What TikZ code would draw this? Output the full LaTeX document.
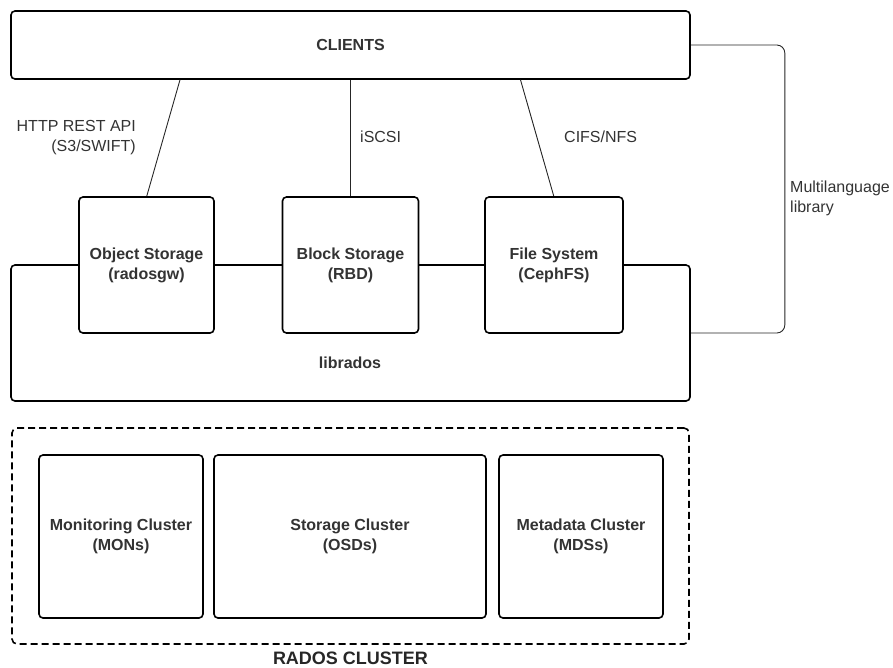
\documentclass[tikz,border=0pt]{standalone}
\usepackage{fontspec}
\setmainfont{Liberation Sans}
\definecolor{txt}{HTML}{333333}
\begin{document}
\begin{tikzpicture}[x=1pt,y=-1pt,
  box/.style={draw=black, line width=1.6pt, rounded corners=4pt, fill=white, inner sep=0pt,
    font=\bfseries\fontsize{16}{20}\selectfont, text=txt, align=center},
  lbl/.style={font=\fontsize{16}{20}\selectfont, text=txt, inner sep=0pt},
  conn/.style={draw=black!85, line width=0.9pt},
  cluster/.style={draw=black, line width=1.6pt, rounded corners=5pt, dash pattern=on 7pt off 4pt, inner sep=0pt}]
\useasboundingbox (0,0) rectangle (893,667);
% top
\node[box, minimum width=679pt, minimum height=68pt] (clients) at (350.5,45) {CLIENTS};
\node[box, minimum width=679pt, minimum height=136pt] (librados) at (350.5,333) {};
\node[lbl, font=\bfseries\fontsize{16}{20}\selectfont] (libtxt) at (350,363) {librados};
% connectors
\draw[conn] ([xshift=-170.5pt]clients.south) -- (146.5,197) coordinate (objtop);
\draw[conn] (clients.south) -- (350.5,197) coordinate (blktop);
\draw[conn] ([xshift=170pt]clients.south) -- (554,197) coordinate (fstop);
\coordinate (mlc) at ([xshift=94pt]clients.east);
\draw[conn, rounded corners=8pt] (clients.east) -- (mlc) |- (librados.east);
% storage boxes
\node[box, minimum width=135pt, minimum height=136pt] (obj) at (146.5,265) {Object Storage\\(radosgw)};
\node[box, minimum width=136pt, minimum height=136pt] (blk) at (350.5,265) {Block Storage\\(RBD)};
\node[box, minimum width=138pt, minimum height=136pt] (fs) at (554,265) {File System\\(CephFS)};
% labels
\node[lbl, anchor=east, align=right] (httplbl) at (136,138) {HTTP REST API\\(S3/SWIFT)};
\node[lbl, anchor=west] (iscsilbl) at (360,137) {iSCSI};
\node[lbl, anchor=west] (cifslbl) at (564,137) {CIFS/NFS};
\node[lbl, anchor=west, align=left] (mllbl) at (790,198) {Multilanguage\\library};
% rados cluster
\node[cluster, minimum width=677pt, minimum height=216pt] (rados) at (350.5,536) {};
\node[box, minimum width=164pt, minimum height=163pt] (mon) at (121,536.5) {Monitoring Cluster\\(MONs)};
\node[box, minimum width=272pt, minimum height=163pt] (osd) at (350,536.5) {Storage Cluster\\(OSDs)};
\node[box, minimum width=164pt, minimum height=163pt] (mds) at (581,536.5) {Metadata Cluster\\(MDSs)};
\node[lbl, font=\bfseries\fontsize{18}{22}\selectfont, text=black!85, anchor=north] (radoslbl) at ([yshift=-7pt]rados.south) {RADOS CLUSTER};
\end{tikzpicture}
\end{document}
